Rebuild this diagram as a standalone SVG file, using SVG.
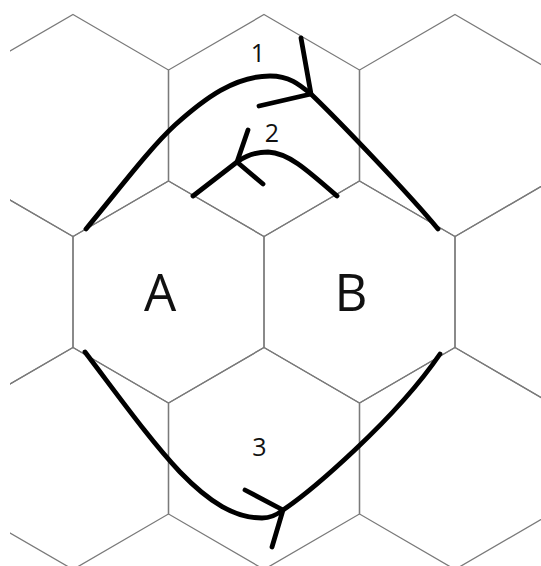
<svg xmlns="http://www.w3.org/2000/svg" xmlns:xlink="http://www.w3.org/1999/xlink" width="541" height="566" viewBox="0 0 541 566">
  <style>
    .grid { fill: none; stroke: #7a7a7a; stroke-width: 1.3; }
    .route { fill: none; stroke: #000; stroke-width: 4.8; stroke-linecap: round; stroke-linejoin: round; }
    .num { font-family: "Open Sans", "Liberation Sans", sans-serif; font-size: 25px; fill: #111; text-anchor: middle; }
    .cell { font-family: "Open Sans", "Liberation Sans", sans-serif; font-size: 51px; fill: #111; text-anchor: middle; }
  </style>
  <defs>
    <!-- pointy-top hexagon centred on the origin -->
    <polygon id="hex" class="grid" points="0,-111 95.5,-55.5 95.5,55.5 0,111 -95.5,55.5 -95.5,-55.5"/>
    <clipPath id="sheet">
      <rect x="10" y="0" width="531" height="566"/>
    </clipPath>
  </defs>
  <rect width="541" height="566" fill="#fff"/>

  <!-- hex grid -->
  <g id="grid" clip-path="url(#sheet)">
    <use xlink:href="#hex" x="73" y="125.5"/>
    <use xlink:href="#hex" x="264" y="125.5"/>
    <use xlink:href="#hex" x="455" y="125.5"/>
    <use xlink:href="#hex" x="-22.5" y="292"/>
    <use xlink:href="#hex" x="550.5" y="292"/>
    <use xlink:href="#hex" x="73" y="458.5"/>
    <use xlink:href="#hex" x="264" y="458.5"/>
    <use xlink:href="#hex" x="455" y="458.5"/>
  </g>

  <g id="cell-A">
    <use xlink:href="#hex" x="168.5" y="292"/>
    <text class="cell" x="160" y="311">A</text>
  </g>
  <g id="cell-B">
    <use xlink:href="#hex" x="359.5" y="292"/>
    <text class="cell" x="351" y="311">B</text>
  </g>

  <!-- routes between the two cells, with hand-drawn arrowheads -->
  <g id="routes">
    <g id="route-1">
      <path class="route" d="M86,229 C120,188 150,148 175,125 C205,98 235,76 270,76 C290,76 300,85 312,95 C340,122 410,195 438,229"/>
      <path class="route" d="M301,38 L311,94 L259,106"/>
      <text class="num" x="258" y="62">1</text>
    </g>
    <g id="route-2">
      <path class="route" d="M193,196 L237,162 C248,154 258,152 268,152 C288,153 305,168 337,196"/>
      <path class="route" d="M248,130 L237,162 L263,184"/>
      <text class="num" x="272" y="142">2</text>
    </g>
    <g id="route-3">
      <path class="route" d="M85,352 C120,398 150,440 180,472 C210,503 235,518 262,518 C272,518 278,514 283,510 C310,492 395,420 440,354"/>
      <path class="route" d="M245,490 L283,510 L272,547"/>
      <text class="num" x="259.5" y="456">3</text>
    </g>
  </g>
</svg>
